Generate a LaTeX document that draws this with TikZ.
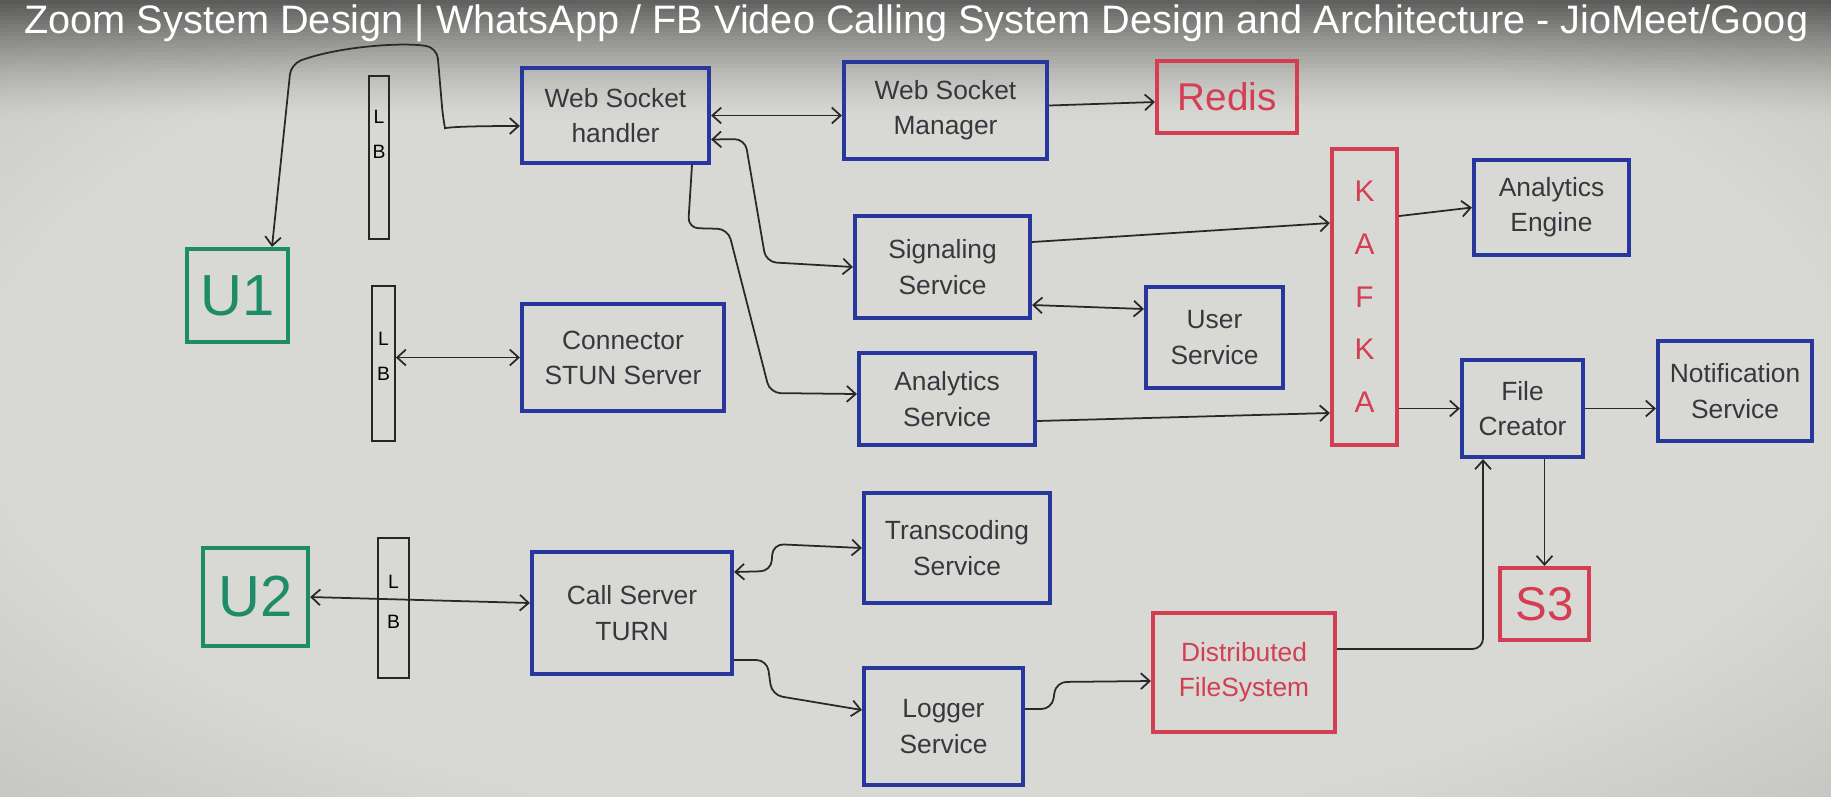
\documentclass[tikz,border=0pt]{standalone}
\usepackage{fontspec}
\setmainfont{Liberation Sans}
\usetikzlibrary{arrows.meta}
\definecolor{board}{RGB}{216,216,212}
\definecolor{boardedge}{RGB}{165,165,161}
\definecolor{mblue}{RGB}{40,55,155}
\definecolor{mgreen}{RGB}{30,140,105}
\definecolor{mred}{RGB}{212,62,82}
\definecolor{ink}{RGB}{55,55,62}
\definecolor{wire}{RGB}{40,40,40}
\pgfdeclareradialshading{vignette}{\pgfpoint{0bp}{0bp}}{color(0bp)=(board); color(24bp)=(board); color(50bp)=(boardedge)}

\begin{document}
\begin{tikzpicture}[x=0.02cm,y=-0.02cm,
  sz/.style 2 args={minimum width=#1,minimum height=#2},
  box/.style={draw=mblue,line width=2.4pt,text=ink,align=center,inner sep=0pt,
    font=\fontsize{15}{20}\selectfont},
  rbox/.style={box,draw=mred,text=mred},
  ubox/.style={box,draw=mgreen,text=mgreen,font=\fontsize{33}{36}\selectfont},
  lbbar/.style={draw=black!85,line width=0.9pt,inner sep=0pt},
  lbtxt/.style={font=\fontsize{11}{11}\selectfont,inner sep=0pt},
  link/.style={draw=wire,line width=1pt,rounded corners=6pt},
  >={Straight Barb[length=5pt,width=9pt]}]

\useasboundingbox (0,0) rectangle (1831,796);
\clip (0,0) rectangle (1831,796);
\shade[shading=vignette] (-40,-40) rectangle (1871,836);
% dark band behind the title
\foreach \i [evaluate=\i as \op using {0.55*(1-\i/30)^1.5}] in {0,...,29}
  \fill[black,opacity=\op] (0,4*\i) rectangle (1831,4*\i+4);
\node[anchor=base west,text=white,inner sep=0pt,font=\fontsize{22.6}{23}\selectfont] (title) at (24,33)
  {Zoom System Design | WhatsApp / FB Video Calling System Design and Architecture - JioMeet/Goog};

% users and load balancers
\node[ubox,sz={2.02cm}{1.86cm}] (u1) at (237.5,295.5) {U1};
\node[ubox,sz={2.10cm}{1.96cm}] (u2) at (255.5,597) {U2};
\node[lbbar,sz={0.40cm}{3.26cm}] (lb1) at (379,157.5) {};
\node[lbtxt] at (379,117) {L};
\node[lbtxt] at (379,152) {B};
\node[lbbar,sz={0.46cm}{3.10cm}] (lb2) at (383.5,363.5) {};
\node[lbtxt] at (383.5,339) {L};
\node[lbtxt] at (383.5,374) {B};
\node[lbbar,sz={0.62cm}{2.80cm}] (lb3) at (393.5,608) {};
\node[lbtxt] at (393.5,582) {L};
\node[lbtxt] at (393.5,622) {B};

% services
\node[box,sz={3.74cm}{1.90cm}] (wsh) at (615.5,115.5) {Web Socket\\handler};
\node[box,sz={4.04cm}{2.14cm}] (stun) at (623,357.5) {Connector\\STUN Server};
\node[box,sz={4.00cm}{2.44cm}] (call) at (632,613) {Call Server\\TURN};
\node[box,sz={4.06cm}{1.94cm}] (wsm) at (945.5,110.5) {Web Socket\\Manager};
\node[box,sz={3.50cm}{2.04cm}] (sig) at (942.5,267) {Signaling\\Service};
\node[box,sz={3.52cm}{1.84cm}] (anserv) at (947,399) {Analytics\\Service};
\node[box,sz={3.72cm}{2.20cm}] (trans) at (957,548) {Transcoding\\Service};
\node[box,sz={3.18cm}{2.34cm}] (logger) at (943.5,726.5) {Logger\\Service};
\node[box,sz={2.74cm}{2.02cm}] (user) at (1214.5,337.5) {User\\Service};
\node[box,sz={3.10cm}{1.90cm}] (aeng) at (1551.5,207.5) {Analytics\\Engine};
\node[box,sz={2.42cm}{1.94cm}] (fc) at (1522.5,408.5) {File\\Creator};
\node[box,sz={3.08cm}{2.00cm}] (notif) at (1735,391) {Notification\\Service};

% stores
\node[rbox,sz={2.80cm}{1.44cm},font=\fontsize{22}{22}\selectfont] (redis) at (1227,97) {Redis};
\node[rbox,sz={1.30cm}{5.92cm},font=\fontsize{17}{30}\selectfont] (kafka) at (1364.5,297) {K\\A\\F\\K\\A};
\node[rbox,sz={3.64cm}{2.38cm}] (dfs) at (1244,672.5) {Distributed\\FileSystem};
\node[rbox,sz={1.78cm}{1.44cm},font=\fontsize{27}{27}\selectfont] (s3) at (1544.5,604) {S3};

% connections
\draw[link,<->] ([xshift=.69cm]u1.north) -- (291,64) .. controls (340,46) and (405,42) .. (437,48)
  -- (443,118) .. controls (445,128) and (452,126) .. ([yshift=-.21cm]wsh.west);
\draw[link,<->] (wsh.east) -- (wsh.east -| wsm.west);
\draw[link,<->] ([yshift=-.48cm]wsh.east) -- (745,139) -- (766,262) -- (sig.west);
\draw[link,->] ([xshift=1.53cm]wsh.south) -- (688,228) -- (728,229) -- (770,393) -- ([yshift=.1cm]anserv.west);
\draw[link,<->] (stun.west -| lb2.east) -- (stun.west);
\draw[link,->] ([yshift=.1cm]wsm.east) -- ([yshift=-.1cm]redis.west);
\draw[link,->] ([yshift=.5cm]sig.east) -- ([yshift=1.48cm]kafka.west);
\draw[link,<->] ([yshift=-.76cm]sig.east) -- ([yshift=.57cm]user.west);
\draw[link,->] ([yshift=-.44cm]anserv.east) -- ([yshift=-2.32cm]kafka.west);
\draw[link,->] ([yshift=1.62cm]kafka.east) -- (aeng.west);
\draw[link,->] (fc.west -| kafka.east) -- (fc.west);
\draw[link,->] (fc.east) -- (fc.east -| notif.west);
\draw[link,->] (s3.north |- fc.south) -- (s3.north);
\draw[link,->] ([yshift=.47cm]dfs.east) -| ([xshift=-.79cm]fc.south);
\draw[link,<->] (u2.east) -- ([yshift=.2cm]call.west);
\draw[link,<->] ([yshift=.82cm]call.east) -- (771,571) -- (773,544) -- (trans.west);
\draw[link,->] ([yshift=-.94cm]call.east) -- (767,660) -- (772,695) -- ([yshift=.33cm]logger.west);
\draw[link,->] ([yshift=.35cm]logger.east) -- (1052,709) -- (1056,682) -- ([yshift=-.17cm]dfs.west);

\end{tikzpicture}
\end{document}
